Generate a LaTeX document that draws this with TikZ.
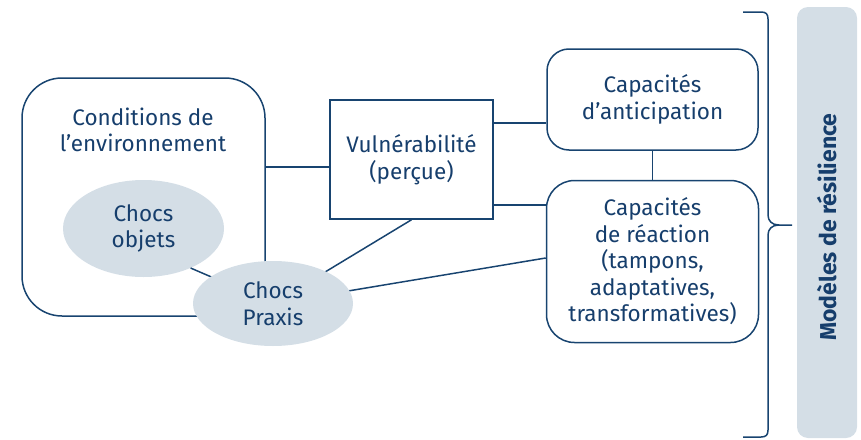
\documentclass[tikz,border=0pt]{standalone}
\usepackage{fontspec}
\setmainfont{Fira Sans}
\usepackage{tikz}
\usetikzlibrary{shapes.geometric,positioning}
\definecolor{rsblue}{RGB}{24,68,112}
\definecolor{rstext}{RGB}{22,62,108}
\definecolor{rsgrey}{RGB}{212,222,230}
\tikzstyle{capbox} = [rectangle, rounded corners=24pt, draw=rsblue, line width=1.5pt, text=rstext, align=center, inner sep=0pt]
\tikzstyle{shock} = [ellipse, fill=rsgrey, text=rstext, align=center, inner sep=0pt]
\tikzstyle{link} = [line width=1.5pt, draw=rsblue]

\begin{document}
\begin{tikzpicture}[x=1pt, y=-1pt, font=\fontsize{22.5}{26.5}\selectfont]
\useasboundingbox (0,0) rectangle (861,439);
% Environment and shocks
\node[capbox, rounded corners=40pt, minimum width=243pt, minimum height=238pt] (cond) at (143.5,197) {};
\node[text=rstext, align=center] (condtxt) at (143,130) {Conditions de\\l’environnement};
\node[shock, minimum width=161pt, minimum height=97pt] (objets) at (143.5,228.5) {Chocs\\objets};

% Vulnerability and capacities
\node[capbox, rounded corners=0pt, minimum width=163pt, minimum height=119pt] (vuln) at (411.5,159.5) {Vulnérabilité\\(perçue)};
\node[capbox, rounded corners=22pt, minimum width=211pt, minimum height=101pt] (antic) at (652.5,99.5) {Capacités\\d’anticipation};
\node[capbox, rounded corners=28pt, minimum width=212pt, minimum height=162pt, below=29pt of antic] (react) {Capacités\\de réaction\\(tampons,\\adaptatives,\\transformatives)};

\draw[link] (cond.east |- 0,167) -- (vuln.west |- 0,167);
\draw[link] (vuln.east |- 0,123) -- (antic.west |- 0,123);
\draw[link] (vuln.east |- 0,205) -- (react.west |- 0,205);
\draw[link] (antic.south) -- (react.north);
\draw[link] (objets.-40) -- (273,303.5);
\draw[link] (273,303.5) -- (vuln.south);
\draw[link] (273,303.5) -- (react.west |- 0,258);
\node[shock, minimum width=160pt, minimum height=85pt] (praxis) at (273,303.5) {Chocs\\Praxis};

% Brace and resilience label
\draw[link] (743,12) -- (761,12) .. controls (766,12) and (768,14) .. (768,19) -- (768,215) .. controls (768,221) and (772,225) .. (779,225) -- (792,225);
\draw[link] (743,437) -- (761,437) .. controls (766,437) and (768,435) .. (768,430) -- (768,235) .. controls (768,229) and (772,225) .. (779,225);
\node[rectangle, rounded corners=11pt, fill=rsgrey, minimum width=60pt, minimum height=431pt, inner sep=0pt] (resbar) at (827,222.5) {};
\node[rotate=90, text=rstext, font=\fontsize{23}{26}\selectfont\bfseries] (restxt) at (827,227) {Modèles de résilience};
\end{tikzpicture}
\end{document}
